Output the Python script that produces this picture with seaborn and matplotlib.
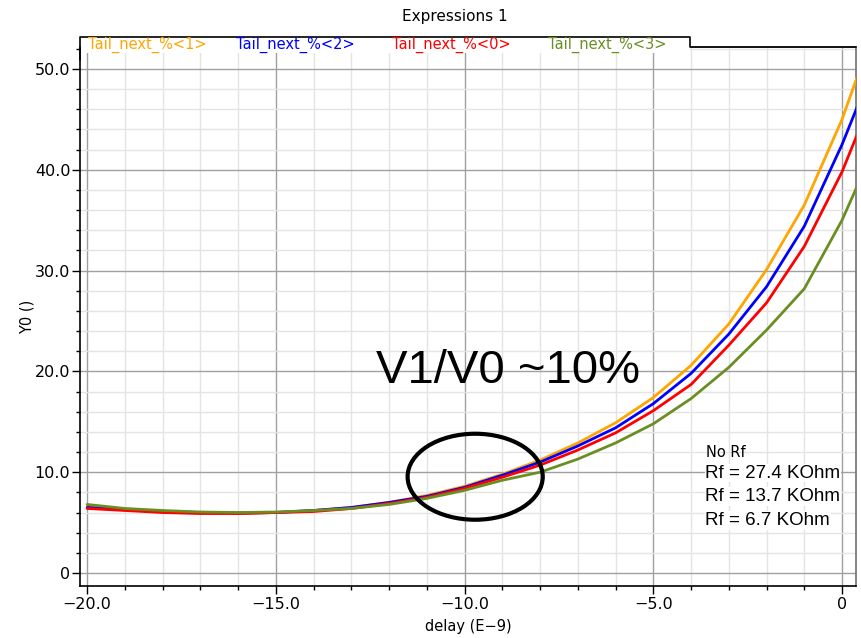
import numpy as np
import pandas as pd
import matplotlib
matplotlib.use("Agg")
import matplotlib.pyplot as plt
import seaborn as sns
from matplotlib.ticker import MultipleLocator, FuncFormatter
from matplotlib.patches import Ellipse, Rectangle
from matplotlib.lines import Line2D

# ---- data ----
delay = [-20, -19, -18, -17, -16, -15, -14, -13, -12, -11, -10,
         -9, -8, -7, -6, -5, -4, -3, -2, -1, 0, 1]
tail_1 = [6.6, 6.3, 6.1, 5.95, 5.9, 6.0, 6.2, 6.5, 7.0, 7.7, 8.6,
          9.8, 11.2, 12.9, 14.9, 17.4, 20.6, 24.7, 30.1, 36.5, 45.0, 55.5]
tail_2 = [6.5, 6.3, 6.1, 6.0, 5.95, 6.0, 6.2, 6.5, 7.0, 7.6, 8.5,
          9.7, 11.0, 12.6, 14.4, 16.8, 19.8, 23.7, 28.4, 34.4, 42.5, 51.8]
tail_0 = [6.4, 6.2, 6.0, 5.9, 5.9, 6.0, 6.1, 6.4, 6.9, 7.5, 8.4,
          9.5, 10.7, 12.2, 13.9, 16.1, 18.7, 22.6, 26.8, 32.4, 39.8, 49.0]
tail_3 = [6.8, 6.4, 6.2, 6.05, 6.0, 6.05, 6.2, 6.4, 6.8, 7.4, 8.2,
          9.2, 10.0, 11.3, 12.9, 14.8, 17.3, 20.4, 24.1, 28.2, 35.0, 43.4]
series_names = ["Tail_next_%<1>", "Tail_next_%<2>", "Tail_next_%<0>", "Tail_next_%<3>"]
series_colors = ["#FFA500", "#0000FF", "#FF0000", "#6B8E23"]
notes = ["No Rf", "Rf = 27.4 KOhm", "Rf = 13.7 KOhm", "Rf = 6.7 KOhm"]

df = pd.concat([
    pd.DataFrame({"delay": delay, "Y0": vals, "series": name})
    for name, vals in zip(series_names, [tail_1, tail_2, tail_0, tail_3])
], ignore_index=True)

sns.set_theme(style="white")
plt.rcParams["font.family"] = ["DejaVu Sans"]
plt.rcParams["text.color"] = "black"
plt.rcParams["axes.labelcolor"] = "black"
plt.rcParams["xtick.color"] = "black"
plt.rcParams["ytick.color"] = "black"

W, H = 861, 638
fig = plt.figure(figsize=(W / 100, H / 100), dpi=100)
fx = lambda px: px / W
fy = lambda py: 1 - py / H
ax = fig.add_axes([fx(80), fy(586), fx(856) - fx(80), fy(47) - fy(586)])

sns.lineplot(data=df, x="delay", y="Y0", hue="series", hue_order=series_names,
             palette=dict(zip(series_names, series_colors)), linewidth=2.0,
             legend=False, ax=ax, zorder=3)

ax.set_xlim(-20.19, 0.37)
ax.set_ylim(-1.29, 52.18)
ax.xaxis.set_major_locator(MultipleLocator(5))
ax.xaxis.set_minor_locator(MultipleLocator(1))
ax.yaxis.set_major_locator(MultipleLocator(10))
ax.yaxis.set_minor_locator(MultipleLocator(2))

def fmt(v, pos):
    if abs(v) < 1e-9:
        return "0"
    s = f"{v:.1f}"
    return s.replace("-", "\u2212")

ax.xaxis.set_major_formatter(FuncFormatter(fmt))
ax.yaxis.set_major_formatter(FuncFormatter(fmt))

ax.grid(which="major", color="#a0a0a0", linewidth=1.0, zorder=0)
ax.grid(which="minor", color="#e4e4e4", linewidth=1.0, zorder=0)
ax.set_axisbelow(True)

ax.tick_params(which="major", direction="out", length=6, width=1, colors="black",
               labelsize=11.5, bottom=True, left=True, pad=2)
ax.tick_params(axis="y", which="major", pad=1)
ax.tick_params(which="minor", direction="out", length=3, width=1, colors="black",
               bottom=True, left=True)
for s in ["left", "bottom"]:
    ax.spines[s].set_color("black")
    ax.spines[s].set_linewidth(1.2)
for s in ["top", "right"]:
    ax.spines[s].set_color("#707070")
    ax.spines[s].set_linewidth(1.2)

ax.set_xlabel("delay (E\u22129)", fontsize=10.5, labelpad=5)
ax.set_ylabel("Y0 ()", fontsize=10.5, labelpad=0)

# annotations
ax.text(-8.86, 20.0, "V1/V0 ~10%", fontsize=34, family="Liberation Sans",
        ha="center", va="center", zorder=5)
ax.add_patch(Ellipse((-9.72, 9.55), 3.58, 8.53, fill=False, lw=3.0,
                     edgecolor="black", zorder=6))
ax.text(-3.60, 12.0, notes[0], fontsize=10.5, ha="left", va="center", zorder=5)
for txt, yv in zip(notes[1:], [9.9, 7.6, 5.2]):
    ax.text(-3.62, yv, txt, fontsize=13.5, family="Liberation Sans",
            ha="left", va="center", zorder=5,
            bbox=dict(facecolor="white", edgecolor="none", pad=0.5))

# title and legend tab
fig.text(fx(455), fy(17), "Expressions 1", fontsize=11, ha="center", va="center")
fig.patches.append(Rectangle((fx(81), fy(53)), fx(690) - fx(81), fy(37) - fy(53),
                             transform=fig.transFigure, facecolor="white",
                             edgecolor="none", zorder=2))
fig.lines.append(Line2D([fx(80), fx(80), fx(690), fx(690), fx(856)],
                        [fy(60), fy(37), fy(37), fy(47), fy(47)],
                        transform=fig.transFigure, color="black", lw=1.2, zorder=3))
for name, col, px in zip(series_names, series_colors, [88, 236, 392, 548]):
    fig.text(fx(px), fy(45), name, color=col, fontsize=10.5, ha="left",
             va="center", zorder=4)

fig.savefig("out.png", dpi=100)
